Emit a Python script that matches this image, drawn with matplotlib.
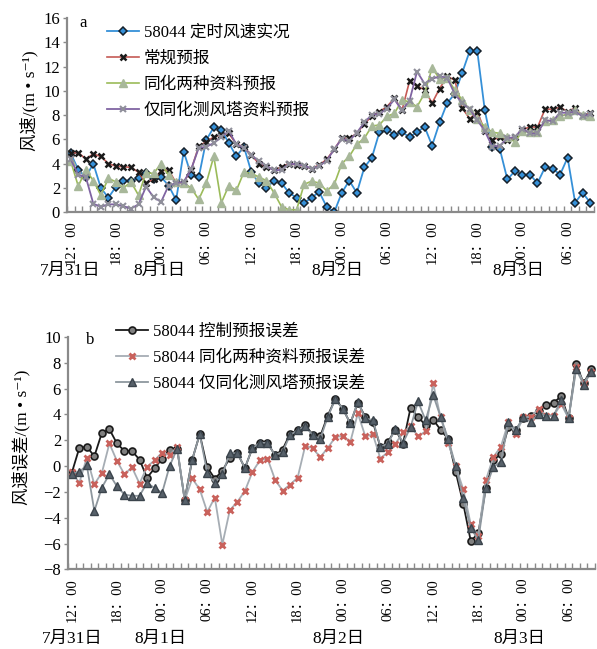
import matplotlib
matplotlib.use('Agg')
import matplotlib.pyplot as plt
import numpy as np
from matplotlib.ticker import FixedLocator, NullFormatter

plt.rcParams['font.family'] = ['Liberation Serif', 'Noto Sans CJK SC', 'DejaVu Sans']

# hourly values, 7/31 12:00 -> 8/3 09:00 (70 points)
obs = [4.85, 3.5, 2.9, 4.0, 2.0, 1.2, 2.1, 2.6, 2.6, 2.8,
       3.2, 2.75, 2.9, 2.2, 1.0, 5.0, 3.06, 2.87, 5.95, 7.0,
       6.8, 5.7, 4.6, 5.4, 3.3, 2.4, 2.0, 2.6, 2.4, 1.6,
       1.2, 0.77, 1.2, 1.68, 0.44, 0.0, 1.6, 2.6, 1.6, 3.7,
       4.5, 6.6, 6.8, 6.4, 6.6, 6.2, 6.6, 7.05, 5.5, 7.4,
       9.0, 9.75, 11.5, 13.3, 13.3, 8.4, 5.4, 5.2, 2.7, 3.4,
       3.1, 3.1, 2.4, 3.7, 3.6, 3.1, 4.5, 0.8, 1.6, 0.8]
ctrl = [4.9, 4.9, 4.4, 4.8, 4.6, 4.0, 3.8, 3.75, 3.7, 3.3,
        2.4, 2.7, 3.4, 3.5, 2.4, 2.45, 3.5, 5.45, 5.8, 6.2,
        6.4, 6.5, 5.6, 5.4, 4.7, 4.0, 3.75, 3.5, 3.75, 4.0,
        3.9, 3.8, 3.6, 3.9, 4.35, 5.2, 6.1, 6.1, 6.5, 7.3,
        7.9, 8.3, 8.7, 9.4, 8.4, 10.8, 10.4, 10.1, 9.0, 10.2,
        11.2, 10.9, 8.6, 7.7, 8.3, 6.7, 5.95, 6.2, 5.95, 6.2,
        6.8, 7.05, 7.0, 8.5, 8.5, 8.65, 8.3, 8.6, 7.9, 8.2]
both = [4.2, 2.15, 3.5, 2.6, 1.4, 2.8, 2.5, 2.0, 2.5, 1.4,
        3.25, 3.2, 4.0, 3.05, 2.5, 2.4, 2.0, 1.05, 2.4, 4.6,
        0.77, 2.2, 1.8, 3.3, 3.2, 2.9, 2.6, 1.6, 0.45, 0.2,
        0.2, 2.3, 2.56, 2.4, 1.76, 2.3, 4.0, 4.6, 5.6, 6.1,
        7.1, 7.2, 7.9, 8.15, 9.25, 9.1, 8.7, 9.8, 11.9, 11.0,
        11.05, 10.1, 9.25, 8.4, 7.7, 7.05, 6.6, 6.5, 6.2, 5.8,
        6.7, 6.6, 6.6, 7.5, 7.6, 7.9, 8.1, 8.4, 8.0, 7.9]
tower = [4.35, 3.1, 2.9, 0.7, 0.45, 0.65, 0.65, 0.5, 0.3, 0.65,
         2.1, 1.25, 0.85, 2.2, 2.4, 2.5, 3.55, 5.3, 5.4, 5.7,
         6.2, 6.7, 5.6, 5.3, 4.7, 4.2, 3.8, 3.45, 3.5, 4.0,
         3.95, 3.85, 3.6, 3.8, 4.25, 5.2, 6.05, 5.9, 6.55, 7.4,
         8.05, 8.1, 8.55, 9.3, 8.4, 9.2, 11.6, 10.6, 11.0, 11.2,
         11.1, 9.75, 9.0, 8.5, 7.6, 6.7, 5.4, 5.5, 6.1, 6.2,
         6.9, 6.5, 6.5, 7.6, 7.5, 8.2, 8.2, 8.3, 7.9, 8.1]

# forecast errors (panel b)
ctrl_err = [-0.53, 1.4, 1.5, 0.76, 2.57, 2.85, 1.75, 1.17, 1.17, 0.5,
            -0.9, -0.17, 0.58, 1.28, 1.35, -2.6, 0.5, 2.47, -0.1, -0.97,
            -0.37, 0.64, 1.0, -0.15, 1.4, 1.8, 1.8, 0.84, 1.28, 2.5,
            2.78, 3.16, 2.44, 2.3, 3.9, 5.18, 4.45, 3.3, 4.9, 3.8,
            3.4, 1.48, 1.87, 2.83, 1.74, 4.5, 3.8, 3.16, 3.6, 2.8,
            2.1, -0.45, -2.9, -5.8, -5.2, -1.7, 0.45, 0.95, 3.0, 2.8,
            3.7, 3.9, 4.3, 4.7, 4.9, 5.4, 3.7, 7.9, 6.4, 7.5]
both_err = [-0.45, -1.3, 0.66, -1.4, -0.52, 1.75, 0.4, -0.63, -0.1, -1.35,
            -0.06, 0.45, 1.05, 0.84, 1.5, -2.65, -0.96, -1.8, -3.55, -2.43,
            -6.07, -3.4, -2.77, -1.92, -0.45, 0.45, 0.58, -1.04, -1.9, -1.43,
            -0.9, 1.55, 1.4, 0.68, 1.4, 2.23, 2.35, 1.87, 4.08, 2.3,
            2.45, 0.58, 1.1, 1.74, 2.6, 3.1, 2.3, 2.7, 6.4, 3.76,
            1.8, 0.0, -1.8, -4.5, -5.4, -1.1, 0.7, 1.5, 3.4, 2.5,
            3.8, 3.8, 4.45, 3.9, 3.9, 4.8, 3.7, 7.7, 6.4, 7.3]
tower_err = [-0.58, -0.45, 0.06, -3.47, -1.66, -0.63, -1.56, -2.2, -2.3, -2.3,
             -1.3, -1.7, -2.07, 0.0, 1.35, -2.6, 0.5, 2.47, -0.53, -1.3,
             -0.63, 1.0, 1.0, -0.14, 1.4, 1.8, 1.8, 0.84, 1.1, 2.4,
             2.77, 3.1, 2.4, 2.1, 3.8, 5.17, 4.45, 3.3, 4.97, 3.7,
             3.55, 1.5, 1.74, 2.9, 1.8, 3.0, 5.0, 3.55, 5.5, 3.8,
             2.1, 0.0, -2.5, -4.8, -5.7, -1.7, -0.06, 0.33, 3.4, 2.8,
             3.8, 3.4, 4.06, 3.9, 3.9, 5.1, 3.7, 7.5, 6.3, 7.3]

tick_labels = ['12：00', '18：00', '00：00', '06：00', '12：00', '18：00',
               '00：00', '06：00', '12：00', '18：00', '00：00', '06：00']
date_labels = ['7月31日', '8月1日', '8月2日', '8月3日']
date_pos = [0, 11.8, 35.4, 59.4]

x = np.arange(len(obs))

fig = plt.figure(figsize=(5.97, 6.49), dpi=100)
ax1 = fig.add_axes([0.1122, 0.673, 0.8827, 0.299])
ax2 = fig.add_axes([0.1139, 0.1225, 0.8827, 0.3585])

spine_col = '#8a8a8a'


def style_axis(ax):
    ax.set_xlim(-0.5, len(obs) - 0.5)
    for s in ['top', 'right']:
        ax.spines[s].set_visible(False)
    for s in ['left', 'bottom']:
        ax.spines[s].set_color(spine_col)
        ax.spines[s].set_linewidth(1.6)
    ax.xaxis.set_major_locator(FixedLocator(np.arange(0, len(obs), 6)))
    ax.set_xticklabels(tick_labels, rotation=90, fontsize=10.5)
    ax.xaxis.set_minor_locator(FixedLocator(np.arange(-0.5, len(obs), 1)))
    ax.xaxis.set_minor_formatter(NullFormatter())
    ax.tick_params(axis='x', which='major', length=0, pad=6)
    ax.tick_params(axis='x', which='minor', direction='in', length=4,
                   width=1, color=spine_col)
    ax.tick_params(axis='y', direction='out', length=3, width=1,
                   color=spine_col, labelsize=12, pad=2)
    for p, lab in zip(date_pos, date_labels):
        ax.text(p, -0.3, lab, transform=ax.get_xaxis_transform(),
                ha='center', va='center', fontsize=12.5)


# ---- panel a ----
ax1.plot(x, obs, color='#3590d8', lw=1.3, marker='D', ms=3.6,
         mfc='#3590d8', mec='#15202a', mew=1.1, label='58044 定时风速实况')
ax1.plot(x, ctrl, color='#c55a55', lw=1.2, marker='x', ms=4.5,
         mec='#1a1a1a', mew=1.8, label='常规预报')
ax1.plot(x, both, color='#9bbb59', lw=1.2, marker='^', ms=6,
         mfc='#a8b89a', mec='#a8b89a', label='同化两种资料预报')
ax1.plot(x, tower, color='#8064a2', lw=1.3, marker='x', ms=5,
         mec='#8f8f9a', mew=1.5, label='仅同化测风塔资料预报')
style_axis(ax1)
ax1.set_ylim(0, 16)
ax1.set_yticks(np.arange(0, 17, 2))
ax1.set_ylabel('风速/(m • s⁻¹)', fontsize=12.5)
ax1.yaxis.set_label_coords(-0.055, 0.577)
ax1.text(0.03, 0.975, 'a', transform=ax1.transAxes, fontsize=12,
         ha='center', va='center')
ax1.legend(loc='upper left', bbox_to_anchor=(0.07, 0.985), frameon=False,
           fontsize=12, handlelength=1.9, handletextpad=0.3,
           labelspacing=0.6, borderpad=0.2, borderaxespad=0)

# ---- panel b ----
ax2.plot(x, ctrl_err, color='#1a1a1a', lw=1.3, marker='o', ms=5,
         mfc='#808080', mec='#1a1a1a', mew=1.2, label='58044 控制预报误差')
ax2.plot(x, both_err, color='#a6adb4', lw=1.3, marker='x', ms=4.5,
         mec='#c9625c', mew=2, label='58044 同化两种资料预报误差')
ax2.plot(x, tower_err, color='#8e979e', lw=1.3, marker='^', ms=5.5,
         mfc='#57616a', mec='#3b444c', mew=1, label='58044 仅同化测风塔预报误差')
style_axis(ax2)
ax2.set_ylim(-8, 10)
ax2.set_yticks(np.arange(-8, 11, 2))
ax2.set_yticklabels([str(v).replace('-', '−') for v in range(-8, 11, 2)])
ax2.set_ylabel('风速误差/(m • s⁻¹)', fontsize=12.5)
ax2.yaxis.set_label_coords(-0.072, 0.57)
ax2.text(0.042, 0.985, 'b', transform=ax2.transAxes, fontsize=12,
         ha='center', va='center')
ax2.legend(loc='upper left', bbox_to_anchor=(0.085, 1.072), frameon=False,
           fontsize=12, handlelength=1.9, handletextpad=0.3,
           labelspacing=0.6, borderpad=0.2, borderaxespad=0)

fig.savefig('out.png', dpi=100)
